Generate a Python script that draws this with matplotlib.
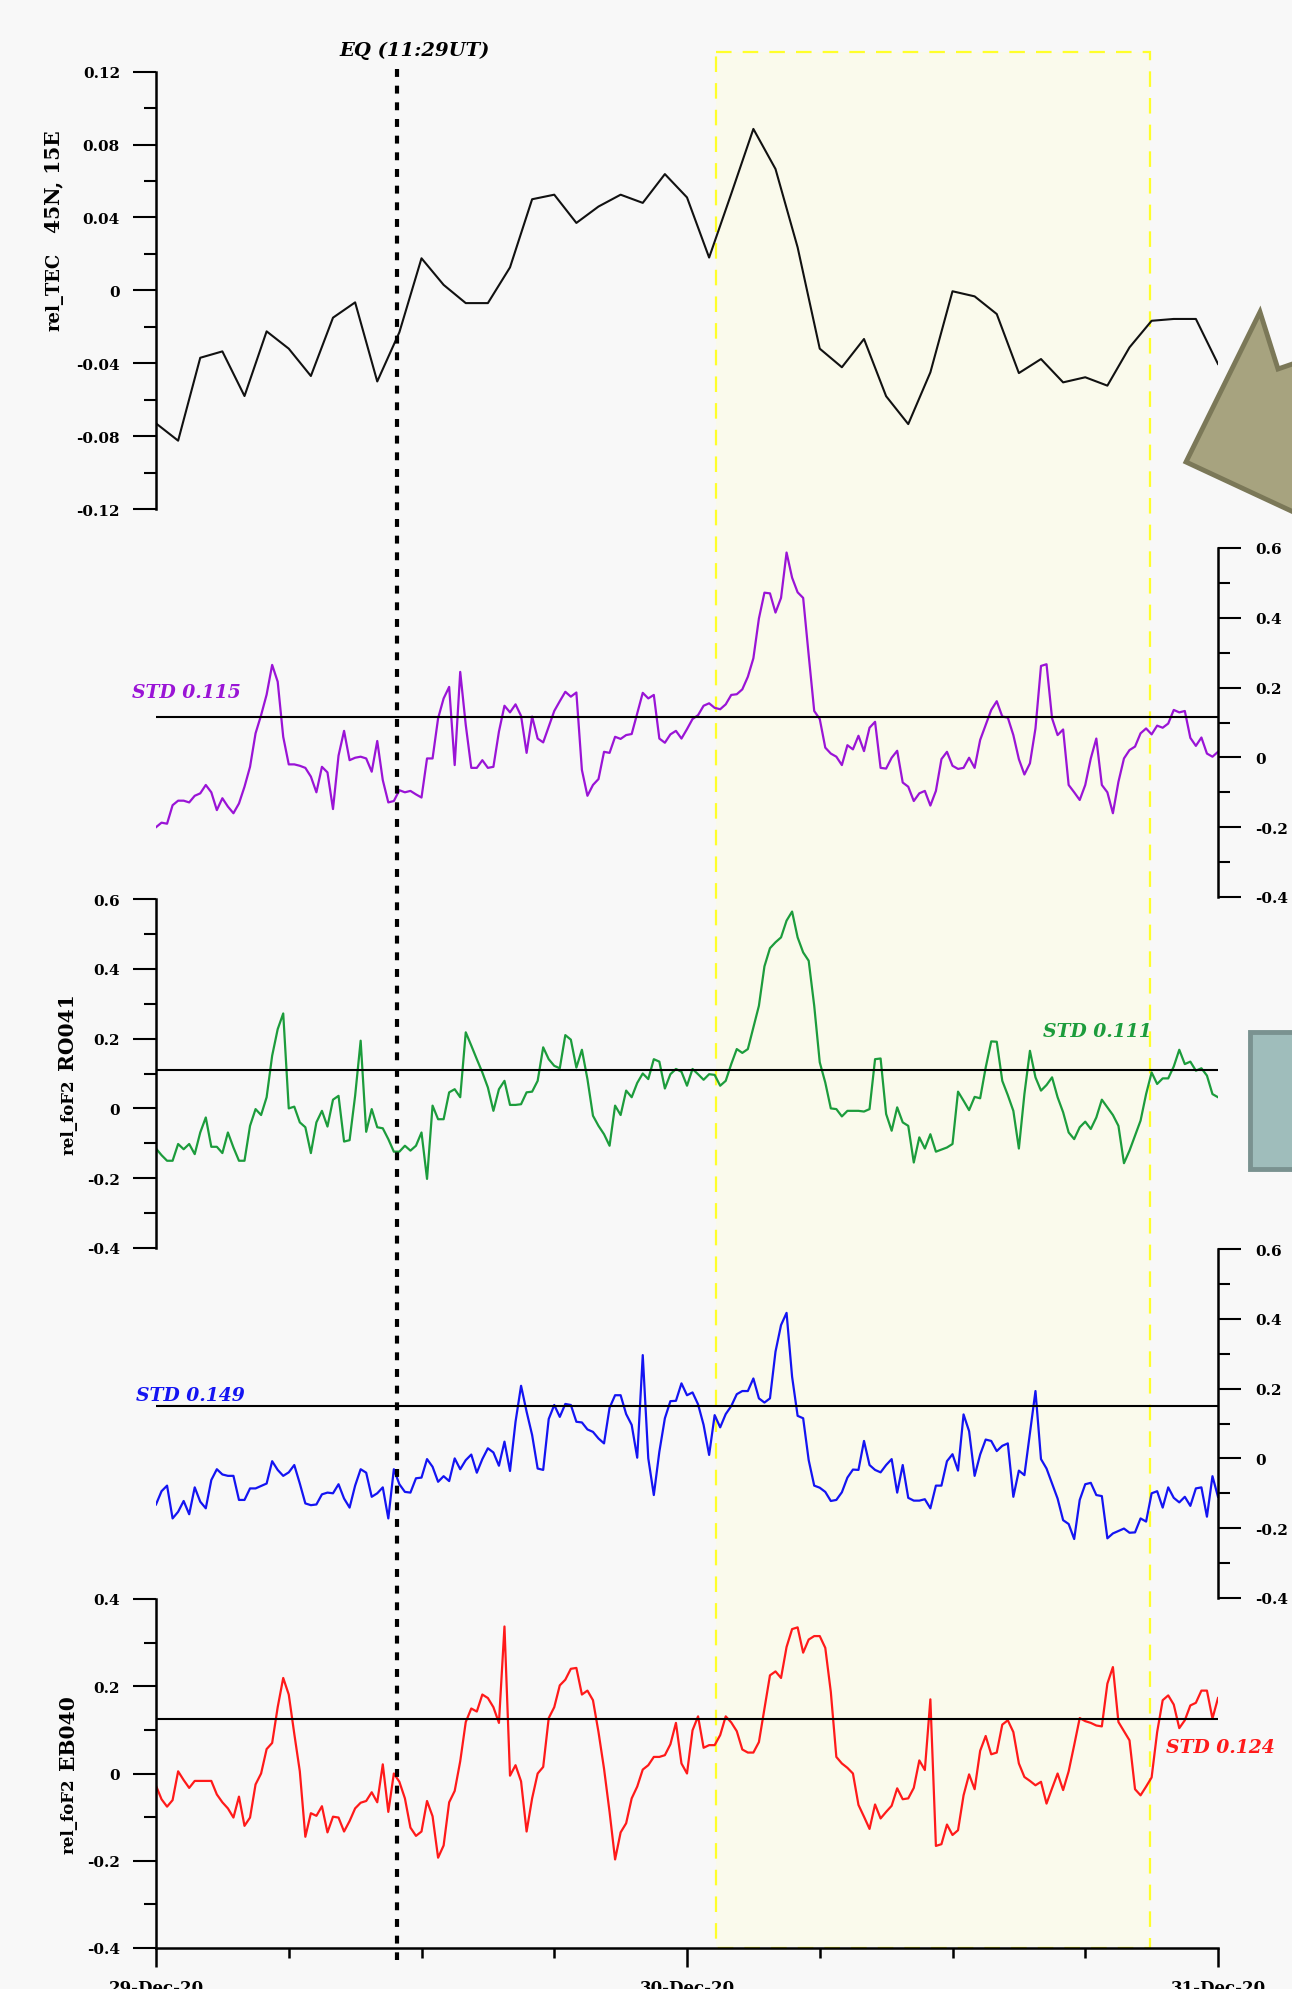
import numpy as np
import pandas as pd
import matplotlib
matplotlib.use("Agg")
import matplotlib.pyplot as plt
import matplotlib.dates as mdates
from matplotlib.patches import Rectangle, Polygon
from matplotlib.ticker import MultipleLocator

# ---- data ----
t0 = pd.Timestamp("2020-12-29")
t_hourly = pd.date_range(t0, periods=49, freq="h")
t_15min = pd.date_range(t0, periods=193, freq="15min")

rel_tec = [-0.073, -0.0825, -0.037, -0.0335, -0.058, -0.0225, -0.032, -0.047, -0.015, -0.0066,
           -0.050, -0.023, 0.0176, 0.003, -0.007, -0.007, 0.0126, 0.050, 0.0525, 0.037,
           0.046, 0.0525, 0.048, 0.0638, 0.051, 0.018, 0.053, 0.0886, 0.0666, 0.0236,
           -0.032, -0.0422, -0.0267, -0.0581, -0.0734, -0.045, -0.0005, -0.0033, -0.013, -0.0454,
           -0.0377, -0.0505, -0.0477, -0.0523, -0.0313, -0.0167, -0.0157, -0.0157, -0.0404]

purple = [-0.20, -0.187, -0.19, -0.137, -0.124, -0.124, -0.129, -0.11, -0.103, -0.079,
          -0.10, -0.151, -0.117, -0.141, -0.160, -0.132, -0.084, -0.027, 0.069, 0.121,
          0.18, 0.265, 0.217, 0.059, -0.020, -0.020, -0.024, -0.030, -0.055, -0.10,
          -0.027, -0.043, -0.148, 0.005, 0.076, -0.008, -0.001, 0.002, -0.003, -0.041,
          0.047, -0.065, -0.129, -0.125, -0.094, -0.10, -0.096, -0.106, -0.115, -0.003,
          -0.003, 0.112, 0.169, 0.202, -0.022, 0.245, 0.093, -0.030, -0.030, -0.008,
          -0.030, -0.027, 0.074, 0.148, 0.129, 0.152, 0.119, 0.013, 0.117, 0.054,
          0.043, 0.088, 0.133, 0.161, 0.188, 0.174, 0.186, -0.036, -0.11, -0.079,
          -0.062, 0.016, 0.013, 0.059, 0.053, 0.064, 0.067, 0.126, 0.185, 0.169,
          0.179, 0.054, 0.042, 0.066, 0.076, 0.054, 0.081, 0.110, 0.121, 0.148,
          0.155, 0.142, 0.138, 0.152, 0.179, 0.181, 0.195, 0.231, 0.284, 0.398,
          0.472, 0.47, 0.415, 0.457, 0.587, 0.515, 0.473, 0.457, 0.293, 0.133,
          0.110, 0.028, 0.011, 0.002, -0.022, 0.035, 0.023, 0.062, 0.018, 0.085,
          0.102, -0.030, -0.032, -0.001, 0.019, -0.072, -0.084, -0.125, -0.103, -0.096,
          -0.138, -0.096, -0.005, 0.016, -0.024, -0.033, -0.030, -0.001, -0.030, 0.050,
          0.093, 0.136, 0.161, 0.117, 0.114, 0.064, -0.005, -0.049, -0.017, 0.083,
          0.262, 0.267, 0.112, 0.064, 0.080, -0.079, -0.10, -0.122, -0.079, -0.003,
          0.054, -0.079, -0.10, -0.160, -0.07, -0.003, 0.021, 0.031, 0.069, 0.083,
          0.066, 0.091, 0.085, 0.097, 0.136, 0.129, 0.133, 0.056, 0.033, 0.057,
          0.011, 0.002, 0.016]

foF2_RO041 = [-0.115, -0.134, -0.150, -0.150, -0.102, -0.117, -0.102, -0.131, -0.069, -0.026,
              -0.110, -0.110, -0.128, -0.069, -0.112, -0.150, -0.150, -0.050, -0.002, -0.019,
              0.032, 0.151, 0.227, 0.272, 0.000, 0.005, -0.040, -0.054, -0.128, -0.040,
              -0.007, -0.052, 0.025, 0.036, -0.095, -0.091, 0.036, 0.194, -0.067, -0.002,
              -0.054, -0.057, -0.088, -0.124, -0.124, -0.107, -0.121, -0.107, -0.069, -0.202,
              0.008, -0.031, -0.031, 0.046, 0.055, 0.032, 0.218, 0.180, 0.141, 0.103,
              0.060, -0.007, 0.055, 0.079, 0.010, 0.010, 0.012, 0.046, 0.048, 0.079,
              0.175, 0.141, 0.122, 0.115, 0.210, 0.197, 0.117, 0.168, 0.084, -0.021,
              -0.050, -0.074, -0.107, 0.008, -0.019, 0.051, 0.032, 0.073, 0.100, 0.084,
              0.141, 0.134, 0.057, 0.098, 0.113, 0.105, 0.065, 0.113, 0.098, 0.082,
              0.098, 0.096, 0.065, 0.079, 0.127, 0.170, 0.159, 0.170, 0.232, 0.294,
              0.407, 0.459, 0.476, 0.490, 0.538, 0.564, 0.490, 0.447, 0.423, 0.294,
              0.132, 0.074, 0.000, -0.002, -0.023, -0.007, -0.007, -0.007, -0.009, -0.002,
              0.141, 0.143, -0.016, -0.064, 0.003, -0.040, -0.050, -0.155, -0.083, -0.115,
              -0.074, -0.124, -0.118, -0.112, -0.102, 0.048, 0.022, -0.005, 0.033, 0.029,
              0.117, 0.192, 0.191, 0.079, 0.038, -0.007, -0.115, 0.041, 0.165, 0.089,
              0.051, 0.067, 0.089, 0.032, -0.011, -0.069, -0.088, -0.054, -0.038, -0.059,
              -0.026, 0.025, 0.003, -0.019, -0.050, -0.157, -0.121, -0.078, -0.035, 0.041,
              0.103, 0.070, 0.086, 0.086, 0.120, 0.168, 0.127, 0.134, 0.108, 0.115,
              0.094, 0.041, 0.032]

blue = [-0.132, -0.094, -0.078, -0.172, -0.153, -0.122, -0.160, -0.083, -0.124, -0.143,
        -0.062, -0.031, -0.046, -0.050, -0.050, -0.119, -0.119, -0.086, -0.086, -0.079,
        -0.072, -0.008, -0.033, -0.050, -0.040, -0.019, -0.072, -0.129, -0.134, -0.132,
        -0.103, -0.098, -0.100, -0.074, -0.115, -0.141, -0.078, -0.031, -0.041, -0.110,
        -0.100, -0.083, -0.172, -0.031, -0.074, -0.096, -0.098, -0.057, -0.055, -0.002,
        -0.024, -0.067, -0.051, -0.065, 0.000, -0.031, -0.005, 0.011, -0.041, -0.002,
        0.029, 0.017, -0.021, 0.048, -0.036, 0.105, 0.208, 0.134, 0.067, -0.029,
        -0.033, 0.113, 0.153, 0.119, 0.156, 0.153, 0.105, 0.103, 0.083, 0.076,
        0.057, 0.043, 0.145, 0.181, 0.181, 0.127, 0.096, 0.002, 0.296, 0.000,
        -0.105, 0.019, 0.115, 0.164, 0.165, 0.215, 0.181, 0.189, 0.155, 0.096,
        0.010, 0.124, 0.089, 0.127, 0.150, 0.184, 0.193, 0.193, 0.229, 0.172,
        0.160, 0.172, 0.306, 0.382, 0.417, 0.234, 0.122, 0.115, -0.005, -0.078,
        -0.084, -0.096, -0.122, -0.119, -0.097, -0.055, -0.032, -0.033, 0.050, -0.019,
        -0.033, -0.040, -0.019, -0.002, -0.098, -0.019, -0.113, -0.121, -0.121, -0.117,
        -0.143, -0.078, -0.078, -0.008, 0.012, -0.035, 0.126, 0.078, -0.050, 0.011,
        0.054, 0.050, 0.021, 0.036, 0.043, -0.110, -0.035, -0.048, 0.072, 0.193,
        -0.002, -0.029, -0.072, -0.115, -0.177, -0.188, -0.231, -0.119, -0.074, -0.070,
        -0.105, -0.108, -0.229, -0.215, -0.208, -0.201, -0.213, -0.212, -0.172, -0.181,
        -0.100, -0.094, -0.141, -0.083, -0.113, -0.126, -0.110, -0.136, -0.086, -0.083,
        -0.167, -0.051, -0.110]

foF2_EB040 = [-0.028, -0.059, -0.076, -0.061, 0.005, -0.015, -0.033, -0.017, -0.017, -0.017,
              -0.017, -0.048, -0.066, -0.080, -0.101, -0.053, -0.120, -0.101, -0.025, 0.000,
              0.056, 0.070, 0.152, 0.219, 0.181, 0.091, 0.005, -0.145, -0.091, -0.097,
              -0.075, -0.135, -0.099, -0.101, -0.133, -0.109, -0.080, -0.067, -0.063, -0.043,
              -0.066, 0.021, -0.088, 0.000, -0.019, -0.057, -0.124, -0.143, -0.133, -0.063,
              -0.098, -0.193, -0.165, -0.066, -0.040, 0.028, 0.118, 0.149, 0.142, 0.181,
              0.173, 0.152, 0.116, 0.337, -0.005, 0.019, -0.018, -0.133, -0.057, 0.000,
              0.015, 0.127, 0.152, 0.202, 0.215, 0.240, 0.242, 0.181, 0.190, 0.168,
              0.095, 0.011, -0.088, -0.197, -0.135, -0.114, -0.057, -0.030, 0.009, 0.019,
              0.038, 0.038, 0.042, 0.067, 0.116, 0.023, 0.000, 0.099, 0.131, 0.059,
              0.065, 0.065, 0.088, 0.131, 0.117, 0.097, 0.055, 0.048, 0.048, 0.072,
              0.149, 0.225, 0.234, 0.219, 0.290, 0.331, 0.335, 0.277, 0.307, 0.315,
              0.315, 0.288, 0.187, 0.038, 0.023, 0.013, 0.000, -0.072, -0.099, -0.127,
              -0.071, -0.103, -0.088, -0.074, -0.034, -0.059, -0.057, -0.033, 0.030, 0.008,
              0.170, -0.166, -0.162, -0.117, -0.141, -0.130, -0.050, -0.002, -0.036, 0.052,
              0.086, 0.044, 0.048, 0.112, 0.122, 0.095, 0.023, -0.008, -0.017, -0.027,
              -0.019, -0.069, -0.034, 0.000, -0.038, 0.005, 0.065, 0.127, 0.120, 0.116,
              0.110, 0.108, 0.206, 0.244, 0.118, 0.097, 0.076, -0.036, -0.050, -0.030,
              -0.009, 0.095, 0.168, 0.179, 0.158, 0.104, 0.122, 0.156, 0.162, 0.190,
              0.190, 0.126, 0.173]

std_values = {"purple": 0.115, "green": 0.111, "blue": 0.149, "red": 0.124}
eq_time = t0 + pd.Timedelta(hours=10.9)
box_start = t0 + pd.Timedelta(hours=25.3)
box_end = t0 + pd.Timedelta(hours=44.92)

# ---- layout helpers (pixel based) ----
W, H = 1292, 1990
X0, X1 = 156, 1218
plt.rcParams["font.family"] = "DejaVu Serif"
plt.rcParams["font.weight"] = "bold"

fig = plt.figure(figsize=(W / 100, H / 100), dpi=100)
fig.patch.set_facecolor("#f8f8f8")


def px_axes(x0, y0, x1, y1, z):
    return fig.add_axes([x0 / W, 1 - y1 / H, (x1 - x0) / W, (y1 - y0) / H], zorder=z)


def ftext(x, y, s, **kw):
    return fig.text(x / W, 1 - y / H, s, **kw)


xlim = (t0, t0 + pd.Timedelta(hours=48))

# background: highlighted window
bg = px_axes(X0, 0, X1, H, 0)
bg.set_xlim(xlim)
bg.set_ylim(H, 0)
bg.axis("off")
b0 = mdates.date2num(box_start)
b1 = mdates.date2num(box_end)
bg.add_patch(Rectangle((b0, 53), b1 - b0, 1896, facecolor="#fafaec",
                       edgecolor="#ffff2a", lw=1.6, linestyle=(0, (7, 5))))


def style_panel(ax, side, ylo, yhi, major, labels, minor):
    ax.patch.set_visible(False)
    ax.set_xlim(xlim)
    ax.set_ylim(ylo, yhi)
    for s in ["top", "bottom", "left", "right"]:
        ax.spines[s].set_visible(False)
    ax.spines[side].set_visible(True)
    ax.spines[side].set_linewidth(1.8)
    if side == "right":
        ax.yaxis.tick_right()
        pad = 10
    else:
        ax.yaxis.tick_left()
        pad = 9.5
    ax.set_yticks(major, labels)
    ax.yaxis.set_minor_locator(MultipleLocator(minor))
    ax.tick_params(axis="y", which="major", length=16.5, width=1.5, pad=pad, labelsize=11)
    ax.tick_params(axis="y", which="minor", length=8.5, width=1.5)
    ax.xaxis.set_visible(False)


# panel 1: TEC
ax1 = px_axes(X0, 72.7, X1, 510, 2)
style_panel(ax1, "left", -0.12, 0.12, [0.12, 0.08, 0.04, 0, -0.04, -0.08, -0.12],
            ["0.12", "0.08", "0.04", "0", "-0.04", "-0.08", "-0.12"], 0.02)
ax1.plot(t_hourly, rel_tec, color="#111111", lw=1.5)

lab6 = ["0.6", "0.4", "0.2", "0", "-0.2", "-0.4"]
v6 = [0.6, 0.4, 0.2, 0, -0.2, -0.4]

# panel 2: purple
ax2 = px_axes(X0, 549, X1, 898, 2)
style_panel(ax2, "right", -0.4, 0.6, v6, lab6, 0.1)
ax2.plot(t_15min, purple, color="#9a14d6", lw=1.6)
ax2.axhline(std_values["purple"], color="k", lw=1.5, zorder=3)

# panel 3: green RO041
ax3 = px_axes(X0, 900, X1, 1249, 2)
style_panel(ax3, "left", -0.4, 0.6, v6, lab6, 0.1)
ax3.plot(t_15min, foF2_RO041, color="#1c9c3c", lw=1.6)
ax3.axhline(std_values["green"], color="k", lw=1.5, zorder=3)

# panel 4: blue
ax4 = px_axes(X0, 1250, X1, 1599, 2)
style_panel(ax4, "right", -0.4, 0.6, v6, lab6, 0.1)
ax4.plot(t_15min, blue, color="#1414f2", lw=1.6)
ax4.axhline(std_values["blue"], color="k", lw=1.5, zorder=3)

# panel 5: red EB040 with the time axis
ax5 = px_axes(X0, 1600, X1, 1949, 2)
style_panel(ax5, "left", -0.4, 0.4, [0.4, 0.2, 0, -0.2, -0.4],
            ["0.4", "0.2", "0", "-0.2", "-0.4"], 0.1)
ax5.plot(t_15min, foF2_EB040, color="#ff1a1a", lw=1.6)
ax5.axhline(std_values["red"], color="k", lw=1.5, zorder=3)
ax5.xaxis.set_visible(True)
ax5.spines["bottom"].set_visible(True)
ax5.spines["bottom"].set_linewidth(1.8)
ax5.xaxis.set_major_locator(mdates.DayLocator())
ax5.xaxis.set_major_formatter(mdates.DateFormatter("%d-%b-%y"))
ax5.xaxis.set_minor_locator(mdates.HourLocator(byhour=[6, 12, 18]))
ax5.tick_params(axis="x", which="major", length=13.7, width=1.8, pad=8.5, labelsize=12)
ax5.tick_params(axis="x", which="minor", length=7.2, width=1.8)
ax5.set_xlim(xlim)

# foreground: EQ marker and decorations
top = px_axes(X0, 0, X1, H, 5)
top.set_xlim(xlim)
top.set_ylim(H, 0)
top.axis("off")
eq = mdates.date2num(eq_time)
top.plot([eq, eq], [70, 1961], color="k", lw=3, linestyle=(0, (1.9, 2.1)))

ov = fig.add_axes([0, 0, 1, 1], zorder=6)
ov.set_xlim(0, W)
ov.set_ylim(H, 0)
ov.axis("off")
ov.add_patch(Polygon([(1260, 313), (1278, 370), (1330, 352), (1330, 530), (1186, 463)],
                     closed=True, facecolor="#a7a37f", edgecolor="#7b7858", lw=3.5,
                     joinstyle="miter"))
ov.add_patch(Rectangle((1250, 1033), 90, 137, facecolor="#9fbdbb",
                       edgecolor="#7a9290", lw=3.5))

# texts
ftext(415, 51, "EQ (11:29UT)", ha="center", va="center", fontsize=14, style="italic")
ftext(132, 693, "STD 0.115", ha="left", va="center", fontsize=13.5, style="italic", color="#9a14d6")
ftext(1043, 1032, "STD 0.111", ha="left", va="center", fontsize=13.5, style="italic", color="#1c9c3c")
ftext(136, 1396, "STD 0.149", ha="left", va="center", fontsize=13.5, style="italic", color="#1414f2")
ftext(1166, 1748, "STD 0.124", ha="left", va="center", fontsize=13.5, style="italic", color="#ff1a1a")

ftext(60, 292, "rel_TEC", rotation=90, rotation_mode="anchor", ha="center", va="baseline", fontsize=13)
ftext(59, 182, "45N, 15E", rotation=90, rotation_mode="anchor", ha="center", va="baseline", fontsize=14.5)
ftext(73, 1117, "rel_foF2", rotation=90, rotation_mode="anchor", ha="center", va="baseline", fontsize=12)
ftext(73, 1032, "RO041", rotation=90, rotation_mode="anchor", ha="center", va="baseline", fontsize=14.5)
ftext(74, 1816, "rel_foF2", rotation=90, rotation_mode="anchor", ha="center", va="baseline", fontsize=12)
ftext(74, 1733, "EB040", rotation=90, rotation_mode="anchor", ha="center", va="baseline", fontsize=14.5)

fig.savefig("out.png", dpi=100, facecolor=fig.get_facecolor())
